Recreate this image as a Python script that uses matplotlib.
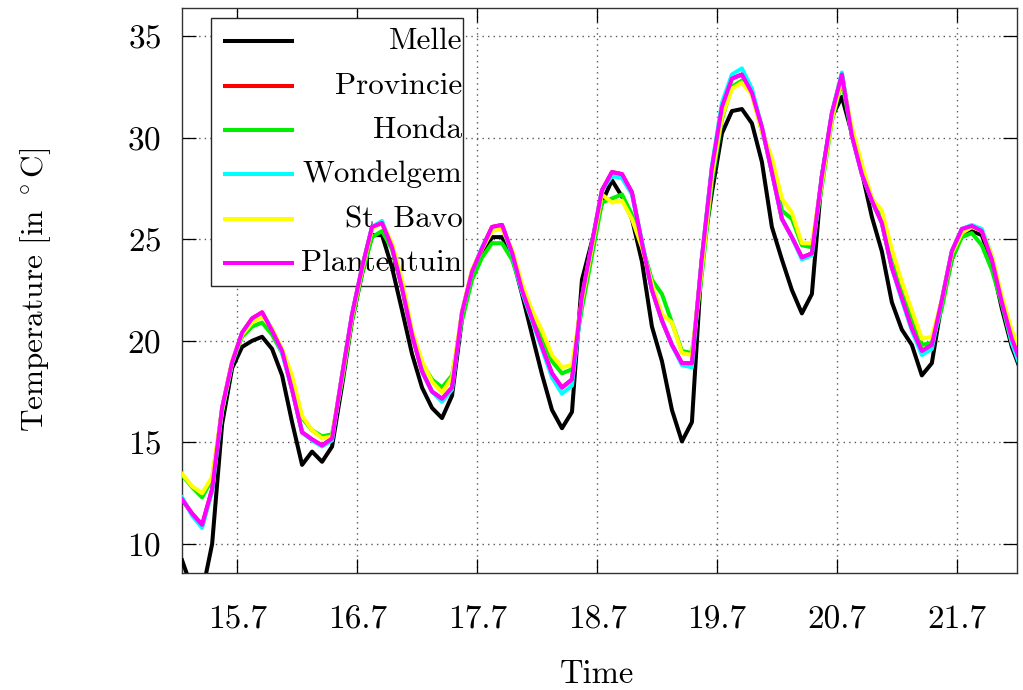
import matplotlib
matplotlib.use("Agg")
import matplotlib.pyplot as plt
from matplotlib.patches import Rectangle
from matplotlib.lines import Line2D
import numpy as np

plt.rcParams['font.family'] = ['cmr10', 'DejaVu Serif']
plt.rcParams['mathtext.fontset'] = 'cm'
plt.rcParams['axes.formatter.use_mathtext'] = True

# time in days, 0 = tick "15.7", one reading every 2 hours
start = -0.46
step = 1.0 / 12

day_ticks = [0, 1, 2, 3, 4, 5, 6]
day_labels = ["15.7", "16.7", "17.7", "18.7", "19.7", "20.7", "21.7"]
temp_ticks = [10, 15, 20, 25, 30, 35]

melle = [9.2, 7.8, 7.6, 10.0, 15.9, 18.65, 19.7, 20.0, 20.2, 19.6,
         18.3, 16.0, 13.9, 14.55, 14.05, 14.8, 17.8, 21.0, 23.3, 25.2,
         25.2, 23.6, 21.5, 19.35, 17.7, 16.7, 16.2, 17.3, 21.1, 23.2,
         24.2, 25.1, 25.1, 24.2, 22.3, 20.3, 18.35, 16.6, 15.7, 16.5,
         23.0, 24.9, 26.8, 27.9, 27.1, 26.0, 23.9, 20.7, 19.0, 16.6,
         15.05, 16.0, 24.0, 27.3, 30.2, 31.3, 31.4, 30.7, 28.8, 25.6,
         24.0, 22.5, 21.35, 22.3, 28.1, 31.0, 32.0, 30.2, 28.3, 26.1,
         24.4, 21.9, 20.55, 19.8, 18.3, 18.9, 21.9, 24.0, 25.25, 25.4,
         25.2, 23.8, 21.6, 19.7, 18.4]

plantentuin = [12.2, 11.5, 10.95, 12.7, 16.7, 18.95, 20.4, 21.1, 21.4, 20.5,
               19.5, 17.6, 15.5, 15.15, 14.85, 15.2, 18.3, 21.3, 23.6, 25.6,
               25.8, 24.6, 22.6, 20.3, 18.5, 17.5, 17.15, 17.7, 21.4, 23.4,
               24.55, 25.6, 25.7, 24.35, 22.5, 21.1, 19.7, 18.4, 17.7, 18.1,
               22.2, 24.8, 27.4, 28.3, 28.2, 27.3, 24.8, 22.5, 21.0, 19.8,
               18.9, 18.9, 24.1, 28.5, 31.5, 32.9, 33.1, 32.2, 30.5, 28.3,
               26.0, 25.1, 24.1, 24.3, 28.1, 31.2, 33.1, 30.1, 28.2, 26.9,
               25.8, 23.6, 22.1, 20.6, 19.5, 19.8, 22.0, 24.4, 25.5, 25.65,
               25.4, 24.0, 21.9, 20.1, 18.8]

# the red line lies fully under the magenta one
provincie = list(plantentuin)

honda = [13.4, 12.8, 12.3, 13.2, 16.5, 18.9, 20.2, 20.7, 20.9, 20.3,
         19.4, 18.0, 16.2, 15.6, 15.3, 15.4, 18.0, 21.0, 23.3, 25.1,
         25.4, 24.5, 22.6, 20.3, 18.9, 18.1, 17.7, 18.3, 21.0, 23.0,
         24.1, 24.8, 24.8, 24.0, 22.5, 21.2, 20.2, 19.0, 18.4, 18.6,
         21.6, 24.2, 26.8, 27.0, 27.2, 26.2, 24.7, 23.0, 22.3, 20.9,
         19.5, 19.4, 23.3, 27.8, 30.9, 32.5, 32.8, 32.2, 30.3, 28.8,
         26.4, 26.0, 24.7, 24.6, 27.6, 30.8, 32.8, 30.1, 28.4, 27.0,
         26.1, 24.2, 22.5, 21.2, 19.8, 19.9, 21.6, 24.0, 25.1, 25.3,
         24.7, 23.5, 21.8, 19.9, 18.8]

wondelgem = [12.3, 11.4, 10.8, 12.6, 16.6, 18.9, 20.4, 21.0, 21.3, 20.6,
             19.4, 17.6, 15.5, 15.1, 14.8, 15.1, 18.3, 21.3, 23.6, 25.6,
             25.9, 24.7, 22.7, 20.4, 18.5, 17.5, 17.0, 17.6, 21.4, 23.4,
             24.6, 25.5, 25.6, 24.3, 22.4, 21.0, 19.6, 18.2, 17.4, 17.8,
             22.1, 24.8, 27.4, 28.1, 28.0, 27.2, 24.9, 22.5, 21.0, 19.8,
             18.8, 18.7, 24.1, 28.6, 31.7, 33.1, 33.4, 32.4, 30.5, 28.3,
             26.0, 25.1, 24.0, 24.2, 28.1, 31.2, 33.2, 30.1, 28.2, 26.9,
             25.8, 23.6, 22.0, 20.5, 19.3, 19.6, 22.0, 24.4, 25.5, 25.7,
             25.5, 24.2, 22.0, 19.9, 18.5]

st_bavo = [13.45, 12.85, 12.5, 13.3, 16.6, 19.0, 20.3, 20.9, 21.2, 20.6,
           19.6, 18.3, 16.3, 15.6, 15.2, 15.3, 18.2, 21.2, 23.5, 25.5,
           25.8, 24.8, 23.0, 20.5, 19.0, 18.0, 17.45, 18.2, 21.4, 23.5,
           24.5, 25.4, 25.5, 24.5, 22.8, 21.5, 20.5, 19.3, 18.7, 18.8,
           22.0, 24.6, 27.2, 26.8, 26.9, 26.0, 24.6, 22.8, 21.3, 20.9,
           19.4, 19.3, 23.6, 28.1, 31.0, 32.4, 32.7, 32.1, 30.3, 29.0,
           27.0, 26.3, 24.8, 24.8, 27.8, 30.9, 32.9, 30.5, 28.7, 27.0,
           26.4, 24.5, 22.9, 21.5, 20.1, 20.2, 22.0, 24.3, 25.3, 25.6,
           25.4, 24.2, 22.2, 20.5, 19.4]

names = ["Melle", "Provincie", "Honda", "Wondelgem", "St. Bavo", "Plantentuin"]
series = [melle, provincie, honda, wondelgem, st_bavo, plantentuin]
colors = ["black", "#ff0000", "#00ee00", "#00ffff", "#ffff00", "#ff00ff"]

t = start + step * np.arange(len(melle))

fig = plt.figure(figsize=(10.23, 6.9), dpi=100)
ax = fig.add_axes([182 / 1023, 1 - 573 / 690, 835 / 1023, 565 / 690])
ax.set_axisbelow(True)

for i, (vals, c) in enumerate(zip(series, colors)):
    ax.plot(t, vals, color=c, lw=2.9, zorder=3 + i)

ax.set_xlim(-0.461, 6.50)
ax.set_ylim(8.58, 36.37)
ax.set_xticks(day_ticks)
ax.set_xticklabels(day_labels)
ax.set_yticks(temp_ticks)
ax.tick_params(direction='in', length=10, width=0.9, top=True, right=True,
               labelsize=24)
ax.tick_params(axis='x', pad=23)
ax.tick_params(axis='y', pad=15)
ax.grid(True, color='0.35', linestyle=(0, (1, 3)), lw=1.0)
for s in ax.spines.values():
    s.set_linewidth(1.0)
    s.set_color('0.2')

fig.text(597 / 1023, 1 - 674 / 690, "Time", ha='center', va='center', fontsize=23.5)
fig.text(36 / 1023, 1 - 290 / 690, r"Temperature [in $^\circ$C]", rotation=90,
         ha='center', va='center', fontsize=22.5)

# key box drawn by hand: labels are right aligned, lines pass over it
def ax_x(px):
    return (px - 182) / 835.0

def ax_y(py):
    return (573 - py) / 565.0

ax.add_patch(Rectangle((ax_x(210.7), ax_y(286)), ax_x(463.3) - ax_x(210.7),
                       ax_y(18.3) - ax_y(286), transform=ax.transAxes,
                       facecolor='white', edgecolor='0.15', lw=1.0, zorder=1.5))
rows = [41, 85.7, 130, 174.3, 219, 263.3]
for row, name, c in zip(rows, names, colors):
    ax.add_line(Line2D([ax_x(225), ax_x(291.7)], [ax_y(row), ax_y(row)],
                       transform=ax.transAxes, color=c, lw=2.9, zorder=1.7))
    ax.text(ax_x(462.5), ax_y(row + 8), name, transform=ax.transAxes,
            ha='right', va='baseline', fontsize=22.4, zorder=1.6)

fig.savefig("out.png", dpi=100)
